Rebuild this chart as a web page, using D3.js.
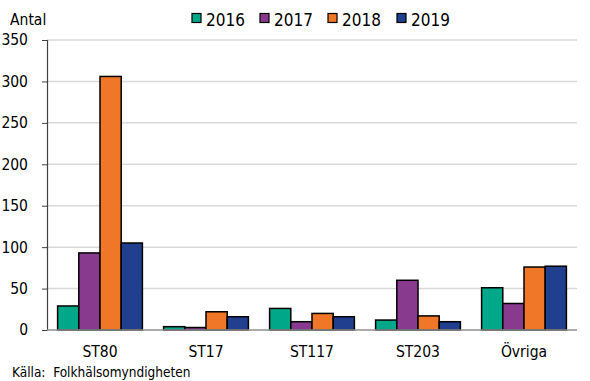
<!DOCTYPE html>
<html><head><meta charset="utf-8">
<script src="https://cdn.jsdelivr.net/npm/d3@7"></script>
<style>body{margin:0;background:#fff}svg{display:block}text{font-family:"DejaVu Sans Condensed","DejaVu Sans",sans-serif;fill:#000}</style>
</head><body><svg id="c" width="590" height="381"></svg>
<script>
const categories = ["ST80","ST17","ST117","ST203","Övriga"];
const years = ["2016","2017","2018","2019"];
const v2016 = [29,4,26,12,51];
const v2017 = [93,3,10,60,32];
const v2018 = [306,22,20,17,76];
const v2019 = [105,16,16,10,77];
const yTicks = [0,50,100,150,200,250,300,350];
const colors = ["#00A88A","#883A8E","#F07628","#203F8F"];
const series = [v2016,v2017,v2018,v2019];

(function(){
const svg = d3.select("#c");
const mL = 47, mR = 577, mT = 40, mB = 330;
const x = d3.scaleBand().domain(categories).range([mL,mR]).paddingInner(0.2).paddingOuter(0.1);
const x1 = d3.scaleBand().domain(years).range([0,x.bandwidth()]);
const y = d3.scaleLinear().domain([0,350]).range([mB,mT]);

svg.append("g").selectAll("line").data(yTicks.filter(d=>d>0)).join("line")
  .attr("x1",mL).attr("x2",mR).attr("y1",d=>y(d)).attr("y2",d=>y(d))
  .attr("stroke","#d9d9d9").attr("stroke-width",1.5);

const g = svg.append("g");
categories.forEach((c,i)=>{
  years.forEach((yr,j)=>{
    const val = series[j][i];
    g.append("rect").attr("x",x(c)+x1(yr)).attr("width",x1.bandwidth())
      .attr("y",y(val)).attr("height",y(0)-y(val))
      .attr("fill",colors[j]).attr("stroke","#000").attr("stroke-width",1.5);
  });
});

const ya = svg.append("g").attr("transform",`translate(${mL},0)`)
  .call(d3.axisLeft(y).tickValues(yTicks).tickSize(5).tickPadding(14));
ya.select(".domain").attr("stroke","#404040").attr("stroke-width",1.2);
ya.selectAll(".tick line").attr("stroke","#404040");
ya.selectAll("text").attr("font-size","15.5px").attr("font-family","DejaVu Sans Condensed");

svg.append("line").attr("x1",mL).attr("x2",mR).attr("y1",y(0)).attr("y2",y(0))
  .attr("stroke","#909090").attr("stroke-width",1.5);
svg.append("g").selectAll("text").data(categories).join("text")
  .attr("x",d=>x(d)+x.bandwidth()/2).attr("y",357).attr("text-anchor","middle")
  .attr("font-size","15.5px").text(d=>d);

svg.append("text").attr("x",10).attr("y",25).attr("font-size","15.5px").text("Antal");
svg.append("text").attr("x",12).attr("y",377).attr("font-size","13.5px").attr("xml:space","preserve").text("Källa:  Folkhälsomyndigheten");

const legX = [192,260,328,397];
const leg = svg.append("g");
years.forEach((yr,j)=>{
  leg.append("rect").attr("x",legX[j]).attr("y",13.5).attr("width",9).attr("height",9)
    .attr("fill",colors[j]).attr("stroke","#000").attr("stroke-width",1.2);
  leg.append("text").attr("x",legX[j]+14).attr("y",25.5).attr("font-size","17px").text(yr);
});
})();
</script></body></html>
